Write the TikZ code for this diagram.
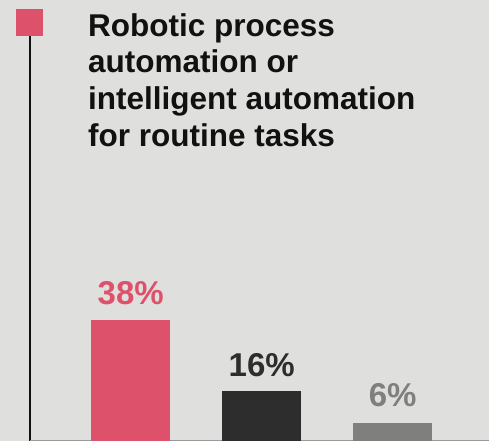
\documentclass[tikz,border=0pt]{standalone}
\usepackage{fontspec}
\setmainfont{Liberation Sans}
\usetikzlibrary{positioning}
\definecolor{bgGray}{HTML}{DFDFDD}
\definecolor{barPink}{HTML}{DD526A}
\definecolor{barDark}{HTML}{2C2D2C}
\definecolor{barGray}{HTML}{7F7F7E}
\definecolor{titleBlack}{HTML}{111111}

\begin{document}
\begin{tikzpicture}[x=1pt, y=-1pt,
  bar/.style={rectangle, inner sep=0pt, minimum width=79pt, anchor=south west},
  pct/.style={font=\bfseries\fontsize{33}{33}\selectfont, anchor=base, inner sep=0pt}]

 % Background
 \fill[bgGray] (0,0) rectangle (489,441);
 \useasboundingbox (0,0) rectangle (489,441);

 % Marker, axis and title
 \node[rectangle, fill=barPink, minimum size=27pt, inner sep=0pt] (marker) at (29.5,22.5) {};
 \coordinate (floor) at (0,441);
 \coordinate (floorR) at (489,440.5);
 \draw[line width=2pt, titleBlack] (marker.south) -- (marker.south |- floor);
 \draw[line width=1pt, gray!80] (marker.south |- floorR) -- (floorR);
 % base anchor sits on the last line
 \node[anchor=base west, align=left, inner sep=0pt, text=titleBlack,
   font=\bfseries\fontsize{31.5}{36.9}\selectfont] (title) at (88,146.7)
   {Robotic process\\automation or\\intelligent automation\\for routine tasks};

 % Bars
 \node[bar, fill=barPink, minimum height=121pt] (bar38) at (91,441) {};
 \node[bar, fill=barDark, minimum height=50pt] (bar16) at (222,441) {};
 \node[bar, fill=barGray, minimum height=18.3pt] (bar6) at (353,441) {};

 % Labels
 \node[pct, text=barPink] (lbl38) at ([yshift=15pt]bar38.north) {38\%};
 \node[pct, text=barDark] (lbl16) at ([yshift=14.5pt]bar16.north) {16\%};
 \node[pct, text=barGray] (lbl6) at ([yshift=16pt]bar6.north) {6\%};

\end{tikzpicture}
\end{document}
